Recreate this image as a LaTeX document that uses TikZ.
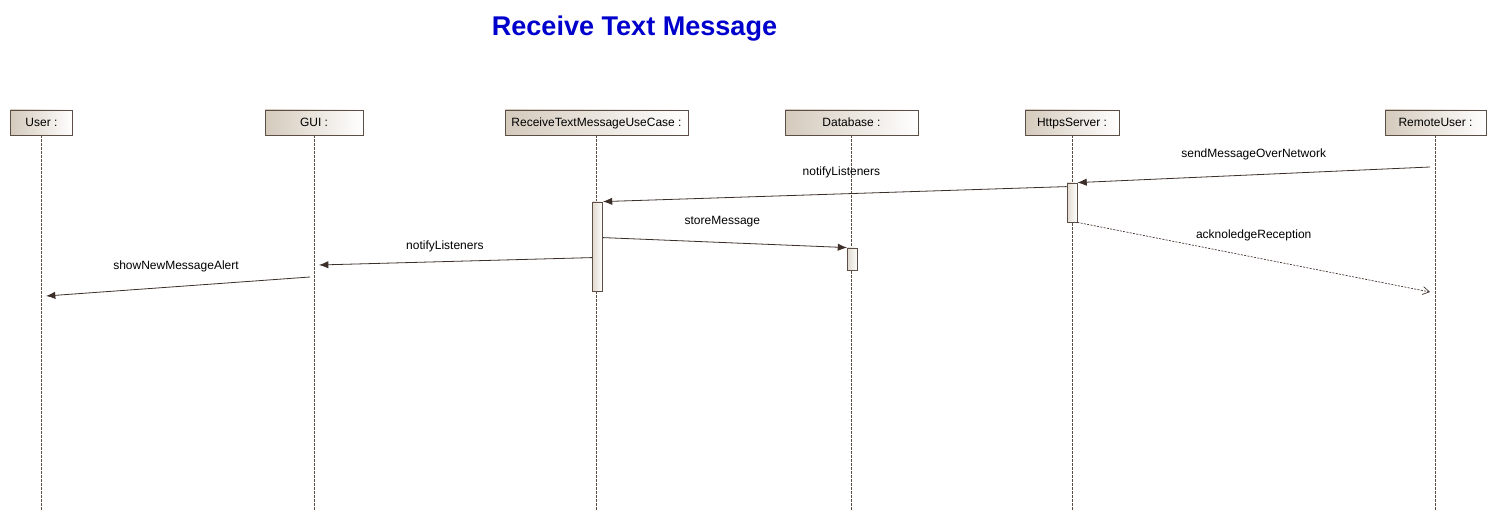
\documentclass[tikz,border=0pt]{standalone}
\usepackage{fontspec}
\setmainfont{Liberation Sans}
\usepackage{xcolor}
\usetikzlibrary{arrows.meta}
\definecolor{titleblue}{RGB}{0,0,204}
\definecolor{boxtan}{RGB}{212,202,188}
\definecolor{boxline}{RGB}{92,78,68}
\definecolor{msgline}{RGB}{60,46,40}
\tikzstyle{every node}=[font=\fontsize{9}{11}\selectfont]
\tikzstyle{object} = [rectangle, draw=boxline, line width=0.6pt, left color=boxtan, right color=white, minimum height=18.75pt, inner sep=0pt, text height=6pt, text depth=0pt]
\tikzstyle{act} = [rectangle, draw=boxline, line width=0.6pt, left color=boxtan!70, right color=white, minimum width=7.5pt, inner sep=0pt]
\tikzstyle{lifeline} = [draw=boxline, line width=0.6pt, dash pattern=on 2pt off 1pt]
\tikzstyle{line} = [draw=msgline, line width=0.6pt, -{Latex[length=7pt,width=5.5pt]}]
\tikzstyle{reply} = [draw=msgline, line width=0.5pt, dash pattern=on 1.5pt off 1pt, -{Straight Barb[length=5pt,width=6pt]}]
\tikzstyle{lbl} = [midway, text=black, inner sep=1pt]

\begin{document}
\begin{tikzpicture}[x=0.75pt, y=-0.75pt]
    \useasboundingbox (0,0) rectangle (1496,520);
    % Title
    \node [font=\fontsize{20.3}{24}\selectfont\bfseries, text=titleblue] (title) at (634.5,28.5) {Receive Text Message};
    % Place nodes
    \node [object, minimum width=46.5pt] (user) at (41.5,122.5) {User :};
    \node [object, minimum width=73.5pt] (gui) at (314,122.5) {GUI :};
    \node [object, minimum width=137.25pt] (usecase) at (596.5,122.5) {ReceiveTextMessageUseCase :};
    \node [object, minimum width=99.75pt] (db) at (851.5,122.5) {Database :};
    \node [object, minimum width=70.5pt] (server) at (1072,122.5) {HttpsServer :};
    \node [object, minimum width=75.75pt] (remote) at (1435.5,122.5) {RemoteUser :};
    % Lifelines
    \coordinate (bottom) at (0,510);
    \foreach \n in {user,gui,usecase,db,server,remote}
        \path [lifeline] (\n.south) -- (\n.south |- bottom);
    % Activations
    \node [act, minimum height=29.25pt] (serverAct) at (1072,202.5) {};
    \node [act, minimum height=66.75pt] (usecaseAct) at (597.5,246.5) {};
    \node [act, minimum height=16.5pt] (dbAct) at (852.5,259) {};
    % Free ends on lifelines
    \coordinate (sendStart) at (1430,167);
    \coordinate (ackEnd) at (1430,292);
    \coordinate (guiIn) at (319,265);
    \coordinate (guiOut) at (310,277);
    \coordinate (userIn) at (46,296);
    % Draw edges
    \path [line] (sendStart) -- (serverAct.north east)
        node [lbl, yshift=15pt] {sendMessageOverNetwork};
    \path [line] ([yshift=-3pt]serverAct.north west) -- (usecaseAct.north east)
        node [lbl, yshift=16pt, xshift=5pt] {notifyListeners};
    \path [line] ([yshift=-27pt]usecaseAct.north east) -- (dbAct.north west)
        node [lbl, yshift=16pt, xshift=-2pt] {storeMessage};
    \path [reply] (serverAct.south east) -- (ackEnd)
        node [lbl, yshift=16pt] {acknoledgeReception};
    \path [line] ([yshift=-42pt]usecaseAct.north west) -- (guiIn)
        node [lbl, yshift=11.5pt, xshift=-8pt] {notifyListeners};
    \path [line] (guiOut) -- (userIn)
        node [lbl, yshift=15pt, xshift=-1.5pt] {showNewMessageAlert};
\end{tikzpicture}
\end{document}
